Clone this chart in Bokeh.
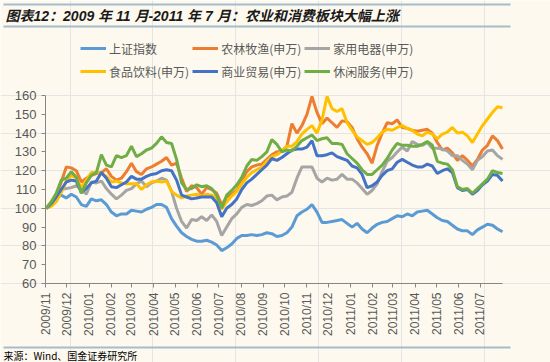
import math
import pandas as pd
from bokeh.plotting import figure
from bokeh.models import (Range1d, FixedTicker, DatetimeTickFormatter, Legend,
                          LegendItem, Label, BoxAnnotation, LinearAxis, DatetimeAxis)
from bokeh.embed import file_html
from bokeh.resources import INLINE

# ---------------- data ----------------
title_text = "图表12：2009 年 11 月-2011 年 7 月：农业和消费板块大幅上涨"
source_text = "来源：Wind、国金证券研究所"

series_names = ["上证指数", "农林牧渔(申万)", "家用电器(申万)",
                "食品饮料(申万)", "商业贸易(申万)", "休闲服务(申万)"]
series_colors = ["#5B9BD5", "#ED7D31", "#A5A5A5", "#FFC000", "#4472C4", "#70AD47"]

dates = pd.date_range("2009-11-02", periods=92, freq="7D")

sse = [100, 103, 105.5, 107, 105.5, 107.5, 106, 102, 101, 105,
       104, 104.5, 102, 98, 96, 97, 97, 99, 98.5, 98,
       99.5, 100.5, 102, 102, 100.5, 94.5, 90.5, 87, 85, 83.5,
       82.5, 82.5, 83, 82, 80.5, 77.5, 79, 81, 84, 85.5,
       85.5, 86, 85.5, 86, 87, 86.5, 85, 85.5, 87, 90,
       96, 98, 99.5, 102, 98, 92.5, 92.5, 93, 93.5, 94,
       92, 90, 92, 89, 87, 89.5, 91.5, 92.5, 93, 94.5,
       96, 95.5, 97, 96, 98, 98.5, 99, 97, 95, 93.5,
       93, 91, 89, 88, 88, 86, 88.5, 90, 91.5, 91,
       89, 87.5]

agri = [100, 103, 106.5, 114, 122, 121.5, 120, 114, 116, 117.5,
        118.5, 119, 121, 117, 115, 116, 119.5, 124, 119.5, 118,
        121, 122, 123.5, 125, 127, 123, 124, 116, 109, 112,
        111, 107.5, 111, 110, 108, 102, 106, 107.5, 109.5, 114.5,
        119.5, 122, 123, 123.5, 126, 128.5, 130, 130.5, 133, 145,
        140, 144, 150, 159.5, 151, 145, 148, 145.5, 143, 146.5,
        146, 143, 137, 132.5, 129, 124, 133.5, 140, 145.5, 145,
        147, 143, 142.5, 141.5, 141, 141.5, 142, 140, 135, 131,
        132, 129.5, 125.5, 128, 125.5, 122.5, 126, 131, 133.5, 138.5,
        136, 131.5]

appliance = [100, 102.5, 106, 110, 110.5, 111, 112, 110, 107.5, 114,
             113.5, 114.5, 110.5, 107.5, 105, 107, 109.5, 110.5, 113, 114.5,
             111.5, 113.5, 114.5, 116, 115, 109, 100, 93, 89.5, 94,
             93.5, 95.5, 93.5, 96.5, 93, 85.5, 90, 94.5, 97, 100.5,
             102, 101.5, 102.5, 104, 106.5, 107, 104.5, 106, 106.5, 108.5,
             116, 122, 122, 122, 116, 114, 116, 115, 115.5, 118,
             115.5, 115.5, 113.5, 110.5, 107.5, 109.5, 113, 119.5, 125, 127,
             130, 132.5, 130.5, 135.5, 134, 133.5, 135, 132, 132, 131.5,
             130.5, 128, 128, 125.5, 123.5, 120.5, 125.5, 127.5, 130.5, 131,
             128, 126]

food = [100, 101, 103.5, 108.5, 114.5, 117.5, 116, 111, 115, 119,
        119, 118.5, 117, 114, 114.5, 113.5, 113, 113, 113, 110,
        112.5, 114, 114.5, 114, 114.5, 109, 107, 105.5, 106.5, 107,
        107.5, 106.5, 107.5, 107, 105.5, 99.5, 103.5, 106.5, 109, 113,
        116.5, 119, 120.5, 122, 125, 127.5, 128.5, 130.5, 133, 133,
        135.5, 139.5, 142, 144, 140, 147, 159.5, 153, 151.5, 153,
        145.5, 141.5, 138, 136, 134, 135, 137.5, 140.5, 142, 141.5,
        143, 144, 142.5, 141.5, 139.5, 138.5, 140.5, 139.5, 137, 139.5,
        140.5, 143, 140, 140.5, 138.5, 135, 139.5, 144, 147.5, 151,
        154, 153.5]

commerce = [100, 102.5, 106, 110, 114, 115, 114.5, 108.5, 110.5, 113.5,
            114.5, 119, 116, 111.5, 111, 112.5, 114, 117, 115.5, 115.5,
            117, 118, 118.5, 120, 120.5, 120, 115, 107, 106, 105,
            105.5, 106, 106, 106, 103, 95.5, 100, 102, 105, 110,
            113.5, 115.5, 118, 120.5, 123, 126.5, 125.5, 127, 129, 131,
            131.5, 131.5, 132.5, 136, 128, 128, 128.5, 129.5, 127.5, 126.5,
            125.5, 122.5, 121.5, 118, 111, 112, 114, 117.5, 120, 121,
            124.5, 126, 124.5, 123, 122, 122, 123.5, 122.5, 118.5, 120,
            121, 119, 111, 109.5, 110, 107.5, 109.5, 112.5, 114.5, 118,
            117.5, 114.5]

leisure = [100, 103.5, 108, 115, 116, 119.5, 116.5, 108, 113.5, 117.5,
           119, 128.5, 123, 122, 128, 127, 128, 133, 127.5, 129,
           131, 132, 134.5, 138, 135, 134.5, 126, 113.5, 110, 110.5,
           112.5, 111.5, 112, 110.5, 107, 100, 107, 109.5, 112.5, 116.5,
           122.5, 126, 125.5, 127.5, 130, 136.5, 134, 130, 131, 130.5,
           133, 136, 137.5, 139, 136, 137, 137.5, 134.5, 134.5, 134,
           129, 126.5, 124, 120.5, 118, 118, 120.5, 123, 126.5, 131,
           134.5, 133.5, 133.5, 133, 133, 134, 135.5, 133.5, 125, 124,
           123.5, 120.5, 111.5, 110, 110.5, 108, 110.5, 113, 115.5, 120,
           119, 118.5]

x_tick_labels = ["2009/11", "2009/12", "2010/01", "2010/02", "2010/03", "2010/04",
                 "2010/05", "2010/06", "2010/07", "2010/08", "2010/09", "2010/10",
                 "2010/11", "2010/12", "2011/01", "2011/02", "2011/03", "2011/04",
                 "2011/05", "2011/06", "2011/07"]
y_ticks = [60, 70, 80, 90, 100, 110, 120, 130, 140, 150, 160]
x_start, x_end = "2009-11-01", "2011-08-01"
y_start, y_end = 60, 160

all_series = [sse, agri, appliance, food, commerce, leisure]

# ---------------- layout / styling ----------------
W, H = 550, 362
PL, PR, PT, PB = 45, 502, 95, 283      # plot-area box in page pixels
BG = "#FDF9EE"
RULE = "#A5BDCB"
CJK = "'Noto Sans CJK SC'"
LAT = "'Liberation Sans', 'Noto Sans CJK SC'"
TXT = "#595959"
AXC = "#868686"

x0 = pd.Timestamp(x_start).value / 1e6
x1 = pd.Timestamp(x_end).value / 1e6
xs = (x1 - x0) / (PR - PL)
ys = (y_end - y_start) / (PB - PT)

p = figure(width=W, height=H,
           x_range=Range1d(x0 - PL * xs, x1 + (W - PR) * xs),
           y_range=Range1d(y_start - (H - PB) * ys, y_end + PT * ys),
           toolbar_location=None, output_backend="svg", min_border=0,
           x_axis_location=None, y_axis_location=None,
           background_fill_color=BG, border_fill_color=BG, outline_line_color=None)
p.title.visible = False

renderers = []
for vals, col in zip(all_series, series_colors):
    renderers.append(p.line(x=dates, y=vals, line_color=col, line_width=3))

tick_dates = pd.to_datetime([t + "/01" for t in x_tick_labels], format="%Y/%m/%d")
xaxis = DatetimeAxis(fixed_location=y_start, bounds=(x0, x1),
                     ticker=FixedTicker(ticks=[d.value // 10**6 for d in tick_dates]),
                     formatter=DatetimeTickFormatter(days="%Y/%m", months="%Y/%m",
                                                     years="%Y/%m", hours="%Y/%m"),
                     major_label_orientation=math.pi / 2,
                     major_label_text_font_size="12px")
yaxis = LinearAxis(fixed_location=x0, bounds=(y_start, y_end),
                   ticker=FixedTicker(ticks=y_ticks),
                   major_label_text_font_size="13px")
for ax in (xaxis, yaxis):
    ax.axis_line_color = AXC
    ax.major_tick_line_color = AXC
    ax.major_tick_out = 4
    ax.major_tick_in = 0
    ax.minor_tick_line_color = None
    ax.major_label_text_font = "Liberation Sans"
    ax.major_label_text_color = TXT
p.add_layout(xaxis, "below")
p.add_layout(yaxis, "left")


def rule(page_y):
    p.add_layout(BoxAnnotation(left=3, right=510, top=H - page_y + 1, bottom=H - page_y - 1,
                               left_units="screen", right_units="screen",
                               top_units="screen", bottom_units="screen",
                               fill_color=RULE, fill_alpha=1, line_color=None))


rule(4)
rule(26)
rule(347)
p.add_layout(Label(x=5, y=H - 15, x_units="screen", y_units="screen", text=title_text,
                   text_baseline="middle", text_font=LAT, text_font_size="14px",
                   text_font_style="bold italic", text_color="#1a1a1a"))
p.add_layout(Label(x=3, y=H - 355, x_units="screen", y_units="screen", text=source_text,
                   text_baseline="middle", text_font=CJK, text_font_size="10px",
                   text_color="#000000"))

legend = Legend(items=[LegendItem(label=n, renderers=[r]) for n, r in zip(series_names, renderers)],
                orientation="horizontal", ncols=3, location=(80, H - 81),
                glyph_width=26, glyph_height=20, label_height=20, label_standoff=3,
                spacing=3, padding=0, margin=0, border_line_color=None,
                background_fill_alpha=0, label_text_font=CJK,
                label_text_font_size="12px", label_text_color=TXT)
p.add_layout(legend)

open("out.html", "w").write(file_html(p, INLINE))
